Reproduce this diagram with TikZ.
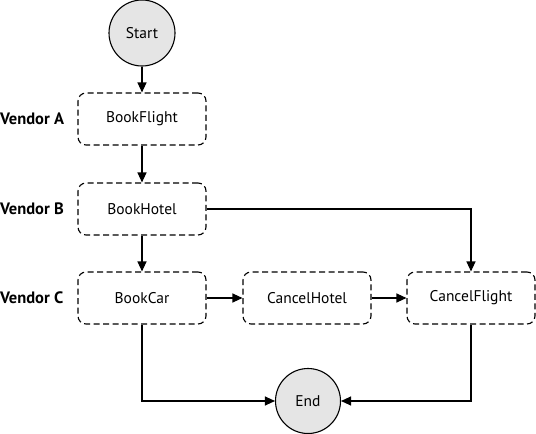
\documentclass[tikz,border=0pt]{standalone}
\usepackage{fontspec}
\setmainfont{PT Sans}
\usetikzlibrary{arrows.meta}
\begin{document}
\begin{tikzpicture}[x=1pt,y=-1pt,
  stepbox/.style={draw, dash pattern=on 6pt off 3.5pt, rounded corners=8pt, minimum width=128pt, minimum height=52pt, line width=1.1pt, inner sep=0pt, font=\fontsize{15.5}{17}\selectfont},
  term/.style={draw, circle, fill=black!10, minimum size=66pt, line width=1.1pt, inner sep=0pt, font=\fontsize{15.5}{17}\selectfont},
  vlabel/.style={font=\bfseries\fontsize{16.5}{18}\selectfont, anchor=west, inner sep=0pt},
  conn/.style={line width=1.1pt, -{Triangle[length=10pt,width=9pt]}}
]
\useasboundingbox (0,0) rectangle (536,434);
\node[term] (start) at (142,33) {Start};
\node[stepbox] (bf) at (142,119) {BookFlight};
\node[stepbox] (bh) at (142,209) {BookHotel};
\node[stepbox] (bc) at (142,298) {BookCar};
\node[stepbox] (ch) at (307,298) {CancelHotel};
\node[stepbox] (cf) at (471,298) {CancelFlight};
\node[term, minimum size=65pt] (end) at (308,401) {End};
\node[vlabel] (va) at (0,119) {Vendor A};
\node[vlabel] (vb) at (0,209) {Vendor B};
\node[vlabel] (vc) at (0,298) {Vendor C};
\draw[conn] (start) -- (bf);
\draw[conn] (bf) -- (bh);
\draw[conn] (bh) -- (bc);
\draw[conn] (bc) -- (ch);
\draw[conn] (ch) -- (cf);
\draw[conn] (bh.east) -| (cf.north);
\draw[conn] (bc.south) |- (end.west);
\draw[conn] (cf.south) |- (end.east);
\end{tikzpicture}
\end{document}
